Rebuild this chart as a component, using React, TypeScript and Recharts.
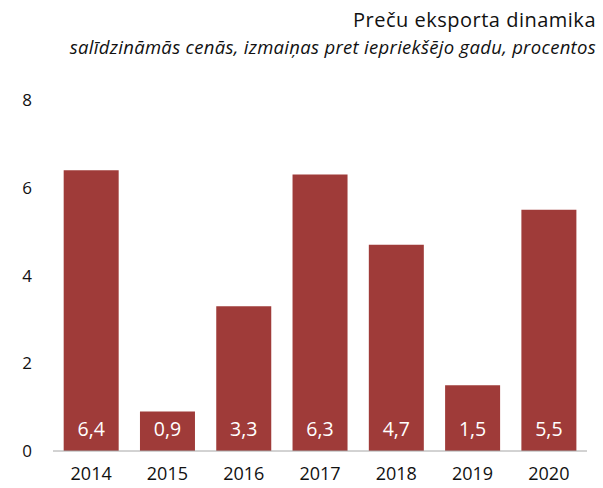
import { BarChart, Bar, XAxis, YAxis, LabelList } from 'recharts'

const years = ['2014', '2015', '2016', '2017', '2018', '2019', '2020']
const exportGrowth = [6.4, 0.9, 3.3, 6.3, 4.7, 1.5, 5.5]
const yTicks = [0, 2, 4, 6, 8]

const title = 'Preču eksporta dinamika'
const subtitle = 'salīdzināmās cenās, izmaiņas pret iepriekšējo gadu, procentos'

const chartData = years.map((year, i) => ({ year, value: exportGrowth[i] }))

const FONT = '"Open Sans", Lato, sans-serif'
const BAR_COLOR = '#9F3B39'

const fmt = (v: number) => v.toFixed(1).replace('.', ',')

function YTick({ y, payload }: any) {
  return (
    <text x={27} y={y} dy={6} textAnchor="middle" fontSize={17} fill="#111" fontFamily={FONT}>
      {payload.value}
    </text>
  )
}

export default function App() {
  return (
    <div style={{ position: 'absolute', left: 0, top: 0, width: 603, height: 488, background: '#fff', fontFamily: FONT }}>
      <div
        style={{
          position: 'absolute',
          right: 7,
          top: 6,
          fontSize: 20,
          letterSpacing: 0.5,
          lineHeight: 1.362,
          color: '#111',
          whiteSpace: 'nowrap',
        }}
      >
        {title}
      </div>
      <div
        style={{
          position: 'absolute',
          right: 7,
          top: 34,
          fontSize: 18.5,
          letterSpacing: 0.3,
          lineHeight: 1.362,
          fontStyle: 'italic',
          color: '#111',
          whiteSpace: 'nowrap',
        }}
      >
        {subtitle}
      </div>
      <BarChart
        width={603}
        height={488}
        data={chartData}
        margin={{ top: 100, right: 16, left: 0, bottom: 7 }}
        barCategoryGap="14%"
      >
        <XAxis
          dataKey="year"
          height={30}
          tickLine={false}
          axisLine={{ stroke: '#A6A6A6' }}
          tick={{ fill: '#111', fontSize: 18, fontFamily: FONT, dy: 8 }}
        />
        <YAxis
          width={53}
          domain={[0, 8]}
          ticks={yTicks}
          axisLine={false}
          tickLine={false}
          tick={<YTick />}
        />
        <Bar dataKey="value" fill={BAR_COLOR} isAnimationActive={false}>
          <LabelList
            dataKey="value"
            position="insideBottom"
            offset={15}
            formatter={(v: any) => fmt(Number(v))}
            fill="#fff"
            fontSize={19.5}
            fontFamily={FONT}
          />
        </Bar>
      </BarChart>
    </div>
  )
}
